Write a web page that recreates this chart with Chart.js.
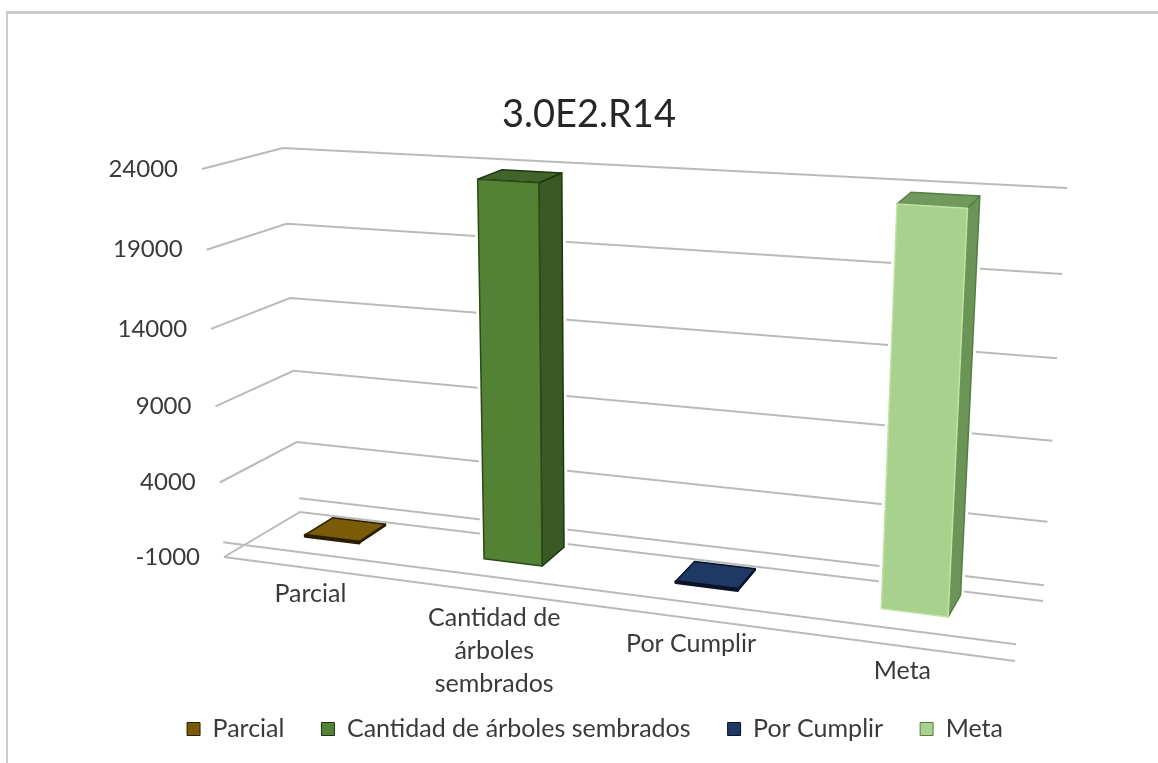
<!DOCTYPE html>
<html lang="es">
<head>
<meta charset="utf-8">
<title>3.0E2.R14</title>
<script src="https://cdn.jsdelivr.net/npm/chart.js@4"></script>
<style>
html,body{margin:0;padding:0;background:#fff;width:1158px;height:763px;overflow:hidden}
#frame{position:absolute;left:6px;top:11px;right:-4px;bottom:-4px;border-left:2px solid #cbcbcb;border-top:3px solid #cbcbcb}
canvas{position:absolute;left:0;top:0}
</style>
</head>
<body>
<div id="frame"></div>
<canvas id="c" width="1158" height="763"></canvas>
<script>
const titleText = "3.0E2.R14";
const categories = ["Parcial", ["Cantidad de", "árboles", "sembrados"], "Por Cumplir", "Meta"];
const seriesNames = ["Parcial", "Cantidad de árboles sembrados", "Por Cumplir", "Meta"];
const parcial = [100, null, null, null];
const cantidad = [null, 23900, null, null];
const porCumplir = [null, null, 100, null];
const meta = [null, null, null, 23900];
const frontColors = ["#7a5a08", "#548235", "#1f3864", "#a9d18e"];
const sideColors = ["#5f4800", "#395a24", "#16284a", "#6a9556"];
const topColors = ["#7a5c08", "#3f6528", "#1f3864", "#6f9a5c"];
const edgeColors = ["#2a1e00", "#1d3510", "#0a1228", "#557d44"];
const frontEdgeColors = ["#2a1e00", "#2b4a18", "#0a1228", "#bfe3a4"];
const tickMin = -1000, tickMax = 24000, tickStep = 5000;

/* perspective of the 3D box: corners of the plot cube on screen */
const cube = {
  fb0:[224,557], fb1:[1015,661], bb0:[300,512], bb1:[1043,601],
  ft0:[202,169], ft1:[1040,221], bt0:[283,148], bt1:[1067,188],
  xWarp:1.15, vWarp:0.05, barFront:0.30, barBack:0.68
};
const lerp = (a,b,t)=>a+(b-a)*t;
function project(u,v,d){
  const U = u/(u+cube.xWarp*(1-u));
  const V = v - cube.vWarp*v*(1-v);
  const out=[0,0];
  for(let i=0;i<2;i++){
    const bot = lerp(lerp(cube.fb0[i],cube.fb1[i],U),lerp(cube.bb0[i],cube.bb1[i],U),d);
    const top = lerp(lerp(cube.ft0[i],cube.ft1[i],U),lerp(cube.bt0[i],cube.bt1[i],U),d);
    out[i]=lerp(bot,top,V);
  }
  return out;
}
function poly(ctx,pts,fill,stroke,lw){
  ctx.beginPath();
  pts.forEach((p,i)=>i?ctx.lineTo(p[0],p[1]):ctx.moveTo(p[0],p[1]));
  ctx.closePath();
  if(fill){ctx.fillStyle=fill;ctx.fill();}
  if(stroke){ctx.strokeStyle=stroke;ctx.lineWidth=lw||1;ctx.lineJoin="round";ctx.stroke();}
}
const uOf=(chart,x)=>(x-chart.chartArea.left)/chart.chartArea.width;
const vOf=(chart,val)=>{const s=chart.scales.y;return (s.bottom-s.getPixelForValue(val))/(s.bottom-s.top);};

const perspective3D = {
  id:"perspective3D",
  beforeDraw(chart){
    if(!chart.legend._moved){chart.legend.left+=6;chart.legend.right+=6;chart.legend._moved=true;}
  },
  beforeDatasetsDraw(chart){
    const ctx=chart.ctx, y=chart.scales.y;
    ctx.save();
    ctx.strokeStyle="#bababa";ctx.lineWidth=2;
    const line=(pts)=>{ctx.beginPath();pts.forEach((p,i)=>i?ctx.lineTo(p[0],p[1]):ctx.moveTo(p[0],p[1]));ctx.stroke();};
    y.ticks.forEach(t=>{
      const v=vOf(chart,t.value);
      line([project(0,v,0),project(0,v,1),project(1,v,1)]);
    });
    const vMin=vOf(chart,tickMin), vZero=vOf(chart,0);
    line([project(0,vMin,0),project(1,vMin,0)]);
    line([project(0,vZero,0),project(1,vZero,0)]);
    line([project(0,vZero,1),project(1,vZero,1)]);
    ctx.restore();
  },
  beforeDatasetDraw(chart,args){
    const ctx=chart.ctx, i=args.index;
    const meta=chart.getDatasetMeta(i);
    const values=chart.data.datasets[i].data;
    meta.data.forEach((el,n)=>{
      if(values[n]===null) return;
      const p=el.getProps(["x","y","base","width"],true);
      const u0=uOf(chart,p.x-p.width/2), u1=uOf(chart,p.x+p.width/2);
      const s=chart.scales.y;
      const vb=(s.bottom-p.base)/(s.bottom-s.top), vt=(s.bottom-p.y)/(s.bottom-s.top);
      const df=cube.barFront, db=cube.barBack;
      const A=project(u0,vb,df),B=project(u1,vb,df),C=project(u1,vt,df),D=project(u0,vt,df);
      const E=project(u1,vb,db),F=project(u1,vt,db),G=project(u0,vt,db);
      ctx.save();
      const tall=(vt-vb)>0.1;
      if(tall){ poly(ctx,[A,B,E,F,G,D],"#ffffff","#ffffff",7); }
      poly(ctx,[B,E,F,C],sideColors[i],edgeColors[i],1.5);
      poly(ctx,[D,C,F,G],topColors[i],edgeColors[i],1.5);
      poly(ctx,[A,B,C,D],frontColors[i],frontEdgeColors[i],tall?1.5:2.5);
      ctx.restore();
    });
    return false;
  },
  afterDatasetsDraw(chart){
    const ctx=chart.ctx, y=chart.scales.y, x=chart.scales.x;
    ctx.save();
    ctx.fillStyle="#3a3a3a";
    ctx.font="24px Lato";
    ctx.textBaseline="middle";
    ctx.textAlign="right";
    y.ticks.forEach(t=>{
      const q=project(0,vOf(chart,t.value),0);
      ctx.fillText(String(t.value),q[0]-24,q[1]);
    });
    ctx.font="25px Lato";
    ctx.textAlign="center";
    const vMin=vOf(chart,tickMin);
    categories.forEach((lab,i)=>{
      const q=project(uOf(chart,x.getPixelForTick(i)),vMin,0);
      const lines=Array.isArray(lab)?lab:[lab];
      lines.forEach((ln,j)=>ctx.fillText(ln,q[0]-1,q[1]+25+j*33));
    });
    ctx.restore();
  }
};

const makeSet=(i,data)=>({label:seriesNames[i],data,backgroundColor:frontColors[i],borderColor:edgeColors[i],borderWidth:1,barPercentage:0.31,categoryPercentage:1});

new Chart(document.getElementById("c"),{
  type:"bar",
  data:{labels:categories,datasets:[makeSet(0,parcial),makeSet(1,cantidad),makeSet(2,porCumplir),makeSet(3,meta)]},
  plugins:[perspective3D],
  options:{
    responsive:false,animation:false,devicePixelRatio:1,
    layout:{padding:{left:30,right:10,top:0,bottom:11.5}},
    plugins:{
      title:{display:true,text:titleText,color:"#262626",font:{family:"Lato",size:38,weight:"normal"},padding:{top:92,bottom:32.4}},
      legend:{position:"bottom",labels:{color:"#3a3a3a",font:{family:"Lato",size:25},boxWidth:13,boxHeight:13,padding:37}},
      tooltip:{enabled:false}
    },
    scales:{
      x:{stacked:true,grid:{display:false},border:{display:false},ticks:{display:false},afterFit(s){s.height=122.5;}},
      y:{stacked:true,min:tickMin,max:tickMax,grid:{display:false},border:{display:false},ticks:{display:false,stepSize:tickStep},afterFit(s){s.width=194;}}
    }
  }
});
</script>
</body>
</html>
